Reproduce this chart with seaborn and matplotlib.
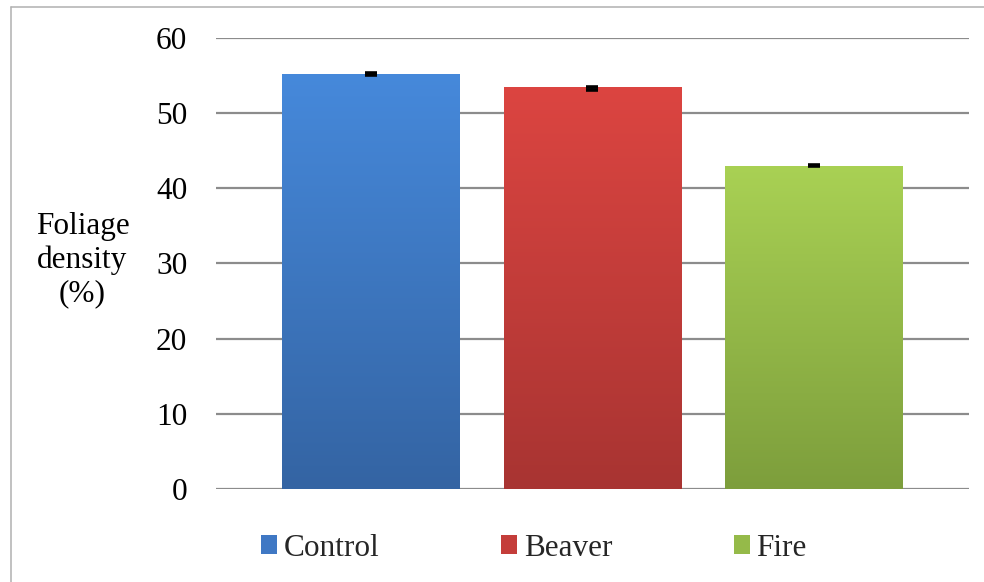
import numpy as np
import pandas as pd
import matplotlib
matplotlib.use("Agg")
import matplotlib.pyplot as plt
import seaborn as sns
from matplotlib.colors import LinearSegmentedColormap
from matplotlib.patches import Rectangle
from matplotlib.lines import Line2D

# ---- data ----
categories = ["Control", "Beaver", "Fire"]
values = [55.2, 53.45, 43.0]
err_lower = [0.12, 0.35, 0.12]
err_upper = [0.12, 0.0, 0.12]
yticks = [0, 10, 20, 30, 40, 50, 60]
ylabel_text = "Foliage\ndensity\n(%)"

top_colors = ["#4689DB", "#DC4541", "#A9D154"]
bottom_colors = ["#3464A3", "#A83432", "#7D9E3C"]
mid_colors = ["#3F78C4", "#C43D3A", "#95BA49"]

sns.set_theme(style="white")
plt.rcParams["font.family"] = ["Liberation Serif", "DejaVu Serif"]
FS = 22.5

fig = plt.figure(figsize=(9.84, 5.82), dpi=100)
ax = fig.add_axes([215.7 / 984, 1 - 489 / 582, (969 - 215.7) / 984, (489 - 37.7) / 582])

df = pd.DataFrame({"cat": categories, "val": values})
sns.barplot(data=df, x="cat", y="val", hue="cat", palette=mid_colors,
            order=categories, width=0.8, legend=False, errorbar=None, ax=ax,
            zorder=3)

# gradient fill clipped to each bar (light at top, darker at bottom)
grad = np.linspace(0, 1, 256).reshape(-1, 1)
for patch, tc, bc in zip(ax.patches, top_colors, bottom_colors):
    x0, y0 = patch.get_x(), patch.get_y()
    w, h = patch.get_width(), patch.get_height()
    cmap = LinearSegmentedColormap.from_list("g", [tc, bc])
    im = ax.imshow(grad, extent=[x0, x0 + w, y0, y0 + h], aspect="auto",
                   cmap=cmap, zorder=3.5, origin="upper")
    im.set_clip_path(patch)
    patch.set_edgecolor("none")

ax.set_xlim(-0.70, 2.70)
ax.set_ylim(0, 60)

# error bars
xs = np.arange(len(categories))
ax.errorbar(xs, values, yerr=[err_lower, err_upper], fmt="none",
            ecolor="black", elinewidth=1.2, capsize=4.5, capthick=2.6, zorder=5)

# axes styling
for s in ax.spines.values():
    s.set_visible(False)
ax.set_yticks(yticks)
ax.yaxis.grid(True, color="#8C8C8C", linewidth=1.6, zorder=0)
ax.xaxis.grid(False)
ax.set_axisbelow(True)
ax.tick_params(axis="y", length=0, pad=20.5, labelsize=FS, colors="black")
ax.set_xticks([])
ax.set_xlabel("")
ax.set_ylabel("")

fig.text(82.5 / 984, 1 - 260 / 582, ylabel_text, ha="center", va="center",
         fontsize=FS, linespacing=1.2, color="black")

# legend
handles = [Rectangle((0, 0), 1, 1, facecolor=c, edgecolor="none") for c in mid_colors]
leg = fig.legend(handles, categories, loc="center", bbox_to_anchor=(534 / 984, 1 - 548 / 582),
                 ncol=3, frameon=False, fontsize=FS, handlelength=0.52, handleheight=0.52,
                 handletextpad=0.2, columnspacing=3.9, borderpad=0, borderaxespad=0)

# outer border (top and left only visible)
fig.add_artist(Line2D([11 / 984, 11 / 984], [0, 1 - 6.7 / 582], transform=fig.transFigure,
                      color="#B0B0B0", linewidth=1.1))
fig.add_artist(Line2D([11 / 984, 1], [1 - 6.7 / 582, 1 - 6.7 / 582], transform=fig.transFigure,
                      color="#B0B0B0", linewidth=1.1))

fig.savefig("out.png", dpi=100)
